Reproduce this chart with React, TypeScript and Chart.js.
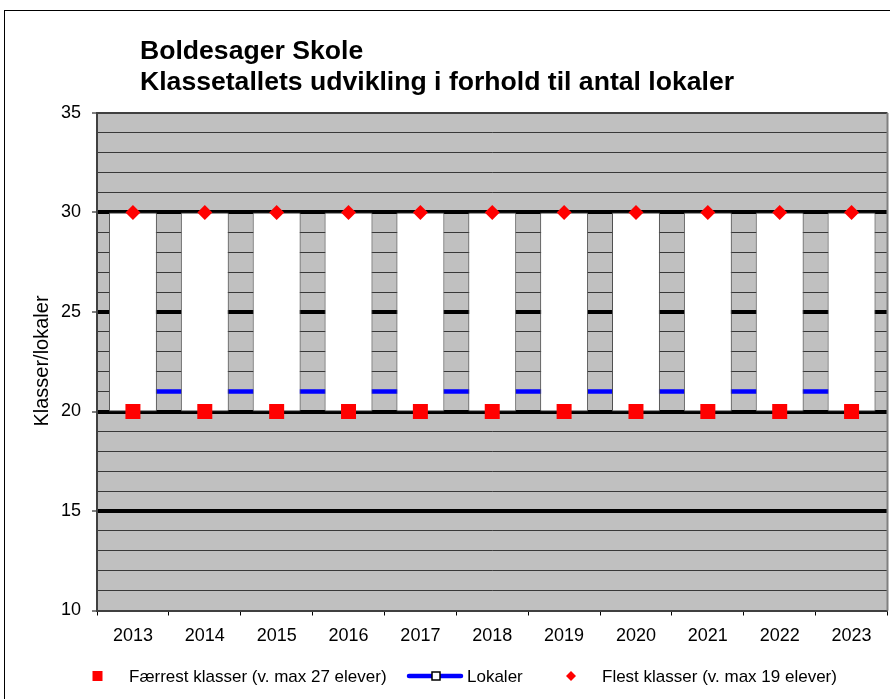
import React, { useEffect, useRef } from 'react';
import { Chart, registerables } from 'chart.js';

Chart.register(...registerables);

// ---- data ----
const years = ['2013', '2014', '2015', '2016', '2017', '2018', '2019', '2020', '2021', '2022', '2023'];
const faerrestKlasser = [20, 20, 20, 20, 20, 20, 20, 20, 20, 20, 20];
const lokaler = [21, 21, 21, 21, 21, 21, 21, 21, 21, 21, 21];
const flestKlasser = [30, 30, 30, 30, 30, 30, 30, 30, 30, 30, 30];

const yMin = 10;
const yMax = 35;
const yMajorStep = 5;

const titleLines = ['Boldesager Skole', 'Klassetallets udvikling i forhold til antal lokaler'];
const yAxisTitle = 'Klasser/lokaler';
const legendLabels = ['Færrest klasser (v. max 27 elever)', 'Lokaler', 'Flest klasser (v. max 19 elever)'];

const FONT = '"Liberation Sans", Arial, sans-serif';
const RED = '#FF0000';
const BLUE = '#0000FF';

const decorPlugin = {
  id: 'decor',
  beforeDraw(chart: any) {
    const { ctx, chartArea: a } = chart;
    ctx.save();
    ctx.fillStyle = '#FFFFFF';
    ctx.fillRect(0, 0, chart.width, chart.height);
    ctx.fillStyle = '#C0C0C0';
    ctx.fillRect(a.left, a.top, a.right - a.left, a.bottom - a.top);
    ctx.restore();
  },
  afterDraw(chart: any) {
    const { ctx, chartArea: a } = chart;
    ctx.save();
    // right border of plot area
    ctx.strokeStyle = '#808080';
    ctx.lineWidth = 2;
    ctx.beginPath();
    ctx.moveTo(a.right, a.top);
    ctx.lineTo(a.right, a.bottom);
    ctx.stroke();

    // outer frame
    ctx.strokeStyle = '#000000';
    ctx.lineWidth = 1;
    ctx.strokeRect(4.5, 10.5, 1000, 1000);

    // title
    ctx.fillStyle = '#000000';
    ctx.font = `bold 26.6px ${FONT}`;
    ctx.textAlign = 'left';
    ctx.textBaseline = 'alphabetic';
    ctx.fillText(titleLines[0], 140, 59);
    ctx.fillText(titleLines[1], 140, 90);

    // y axis title
    ctx.save();
    ctx.font = `20px ${FONT}`;
    ctx.translate(48, 361);
    ctx.rotate(-Math.PI / 2);
    ctx.textAlign = 'center';
    ctx.fillText(yAxisTitle, 0, 0);
    ctx.restore();

    // legend
    const ly = 676;
    ctx.font = `17px ${FONT}`;
    ctx.textBaseline = 'alphabetic';
    ctx.textAlign = 'left';
    // Færrest: red square
    ctx.fillStyle = RED;
    ctx.fillRect(92.5, ly - 5, 10, 10);
    ctx.fillStyle = '#000';
    ctx.fillText(legendLabels[0], 129, ly + 6);
    // Lokaler: line + square marker
    ctx.strokeStyle = BLUE;
    ctx.lineWidth = 4.5;
    ctx.lineCap = 'round';
    ctx.beginPath();
    ctx.moveTo(409, ly);
    ctx.lineTo(461, ly);
    ctx.stroke();
    ctx.fillStyle = '#FFFFFF';
    ctx.fillRect(432, ly - 4, 8, 8);
    ctx.strokeStyle = '#000';
    ctx.lineWidth = 1.5;
    ctx.strokeRect(432, ly - 4, 8, 8);
    ctx.fillStyle = '#000';
    ctx.fillText(legendLabels[1], 467, ly + 6);
    // Flest: red diamond
    ctx.fillStyle = RED;
    ctx.beginPath();
    ctx.moveTo(571, ly - 5);
    ctx.lineTo(576, ly);
    ctx.lineTo(571, ly + 5);
    ctx.lineTo(566, ly);
    ctx.closePath();
    ctx.fill();
    ctx.fillStyle = '#000';
    ctx.fillText(legendLabels[2], 602, ly + 6);
    ctx.restore();
  },
};

export default function App() {
  const canvasRef = useRef<HTMLCanvasElement | null>(null);

  useEffect(() => {
    if (!canvasRef.current) return;
    const rangeData = faerrestKlasser.map((f, i) => [f, flestKlasser[i]]);
    const chart = new Chart(canvasRef.current, {
      type: 'bar',
      data: {
        labels: years,
        datasets: [
          {
            type: 'line',
            label: legendLabels[2],
            data: flestKlasser,
            showLine: false,
            pointStyle: 'rectRot',
            pointRadius: 7.5,
            pointBackgroundColor: RED,
            pointBorderWidth: 0,
            borderColor: RED,
            order: 0,
          } as any,
          {
            type: 'line',
            label: legendLabels[0],
            data: faerrestKlasser,
            showLine: false,
            pointStyle: 'rect',
            pointRadius: 10.6,
            pointBackgroundColor: RED,
            pointBorderWidth: 0,
            borderColor: RED,
            order: 1,
          } as any,
          {
            type: 'bar',
            label: 'range',
            data: rangeData,
            backgroundColor: '#FFFFFF',
            borderColor: '#505050',
            borderWidth: 1,
            borderSkipped: false,
            categoryPercentage: 0.667,
            barPercentage: 1,
            order: 2,
          } as any,
          {
            type: 'line',
            label: legendLabels[1],
            data: lokaler,
            borderColor: BLUE,
            borderWidth: 4.5,
            pointStyle: 'rect',
            pointRadius: 5,
            pointBackgroundColor: '#FFFFFF',
            pointBorderColor: '#000000',
            pointBorderWidth: 1,
            order: 3,
          } as any,
        ],
      },
      options: {
        responsive: false,
        animation: false,
        events: [],
        layout: { autoPadding: false, padding: { left: 0, top: 113, right: 2.5, bottom: 0 } },
        plugins: {
          legend: { display: false },
          title: { display: false },
          tooltip: { enabled: false },
        },
        scales: {
          x: {
            type: 'category',
            offset: true,
            grid: {
              offset: true,
              drawOnChartArea: false,
              drawTicks: true,
              tickLength: 5,
              color: '#000000',
              lineWidth: 1,
            },
            border: { display: true, color: '#404040', width: 2 },
            ticks: {
              color: '#000000',
              font: { family: FONT, size: 18 },
              padding: 10,
              maxRotation: 0,
              autoSkip: false,
            },
            afterFit(scale: any) {
              scale.height = 88.5;
            },
          },
          y: {
            type: 'linear',
            min: yMin,
            max: yMax,
            grid: {
              color: (c: any) => {
                const v = c.tick?.value;
                if (v === yMin || v === yMax) return '#404040';
                return v % yMajorStep === 0 ? '#000000' : '#383838';
              },
              lineWidth: (c: any) => {
                const v = c.tick?.value;
                if (v === yMin || v === yMax) return 2;
                return v % yMajorStep === 0 ? 4 : 1;
              },
              drawTicks: true,
              tickLength: 5,
              tickWidth: 1,
              tickColor: (c: any) => (c.tick?.value % yMajorStep === 0 ? '#000000' : 'rgba(0,0,0,0)'),
            },
            border: { display: true, color: '#404040', width: 2 },
            ticks: {
              stepSize: 1,
              autoSkip: false,
              color: '#000000',
              font: { family: FONT, size: 18 },
              padding: 11,
              callback: (v: any) => (Number(v) % yMajorStep === 0 ? String(v) : ''),
            },
            afterFit(scale: any) {
              scale.width = 97;
            },
          },
        },
      },
      plugins: [decorPlugin],
    });
    return () => chart.destroy();
  }, []);

  return (
    <div style={{ position: 'absolute', left: 0, top: 0, width: 890, height: 699 }}>
      <canvas ref={canvasRef} width={890} height={699} style={{ display: 'block' }} />
    </div>
  );
}
